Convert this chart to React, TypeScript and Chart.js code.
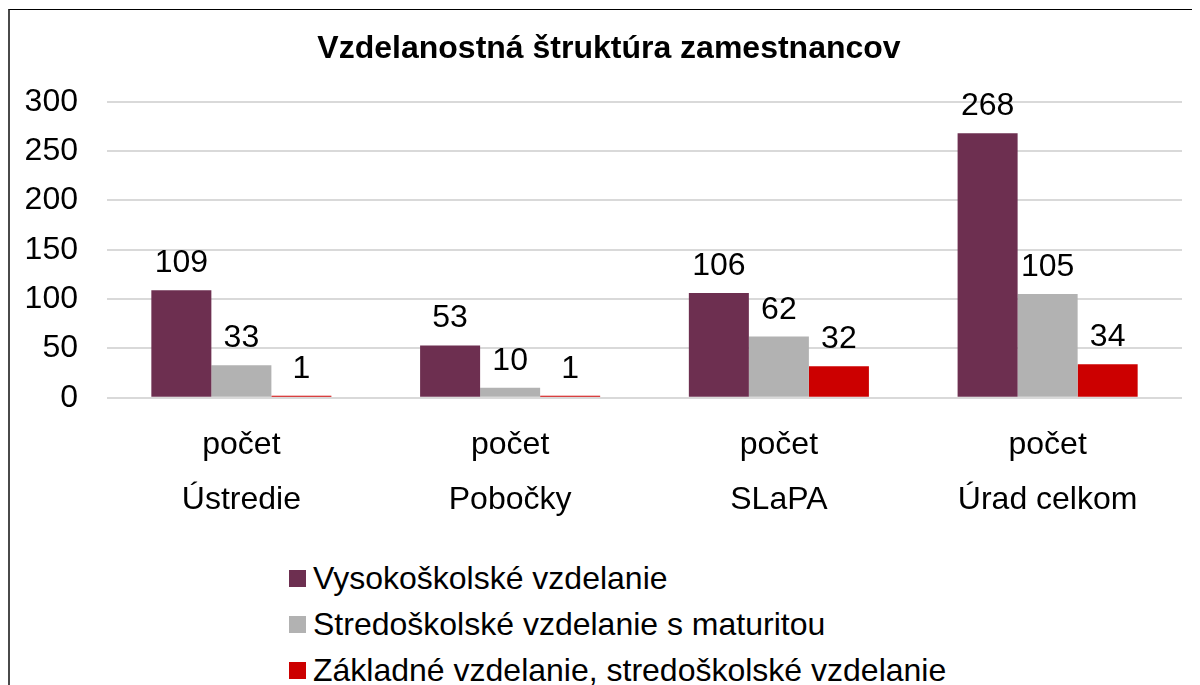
import { useEffect, useRef } from "react";
import { Chart, registerables } from "chart.js";

Chart.register(...registerables);

const FONT = "'Liberation Sans', Arial, sans-serif";

const chartTitle = "Vzdelanostná štruktúra zamestnancov";
const categories = ["Ústredie", "Pobočky", "SLaPA", "Úrad celkom"];
const subLabel = "počet";
const seriesNames = [
  "Vysokoškolské vzdelanie",
  "Stredoškolské vzdelanie s maturitou",
  "Základné vzdelanie, stredoškolské vzdelanie",
];
const vysokoskolske = [109, 53, 106, 268];
const stredoskolske = [33, 10, 62, 105];
const zakladne = [1, 1, 32, 34];
const seriesColors = ["#6D2F50", "#B2B2B2", "#CC0000"];
const yMin = 0;
const yMax = 300;
const yStep = 50;

const valueLabels = {
  id: "valueLabels",
  afterDatasetsDraw(chart: any) {
    const ctx = chart.ctx;
    ctx.save();
    ctx.font = `32px ${FONT}`;
    ctx.fillStyle = "#000";
    ctx.textAlign = "center";
    ctx.textBaseline = "alphabetic";
    chart.data.datasets.forEach((ds: any, i: number) => {
      const meta = chart.getDatasetMeta(i);
      meta.data.forEach((el: any, j: number) => {
        const { x, y } = el.getProps(["x", "y"], true);
        ctx.fillText(String(ds.data[j]), x, y - 18);
      });
    });
    ctx.restore();
  },
};

// Title centred over the whole chart frame (not only the plotting width)
const frameTitle = {
  id: "frameTitle",
  afterDraw(chart: any) {
    const ctx = chart.ctx;
    ctx.save();
    ctx.font = `bold 32px ${FONT}`;
    ctx.fillStyle = "#000";
    ctx.textAlign = "center";
    ctx.textBaseline = "middle";
    ctx.fillText(chartTitle, chart.width / 2, 39.2);
    ctx.restore();
  },
};

export default function App() {
  const ref = useRef<HTMLCanvasElement>(null);

  useEffect(() => {
    document.documentElement.style.overflow = "hidden";
    document.body.style.overflow = "hidden";
    const data = [vysokoskolske, stredoskolske, zakladne];
    const chart = new Chart(ref.current as HTMLCanvasElement, {
      type: "bar",
      data: {
        labels: categories.map((c) => [subLabel, c]),
        datasets: seriesNames.map((name, i) => ({
          label: name,
          data: data[i],
          backgroundColor: seriesColors[i],
          borderWidth: 0,
          categoryPercentage: 0.67,
          barPercentage: 1,
          minBarLength: 2,
        })),
      },
      options: {
        responsive: false,
        animation: false,
        devicePixelRatio: 1,
        layout: { padding: { left: 0, right: 26, top: 91.7, bottom: 0 } },
        plugins: {
          legend: { display: false },
          tooltip: { enabled: false },
          title: { display: false },
        },
        scales: {
          x: {
            grid: { display: false },
            border: { display: false },
            ticks: {
              color: "#000",
              font: { family: FONT, size: 32, lineHeight: 55 / 32 },
              padding: 12,
              maxRotation: 0,
              autoSkip: false,
            },
            afterFit: (s: any) => {
              s.height = 132.3;
            },
          },
          y: {
            min: yMin,
            max: yMax,
            ticks: {
              stepSize: yStep,
              color: "#000",
              font: { family: FONT, size: 32 },
              padding: 29,
            },
            grid: { color: "#D9D9D9", lineWidth: 2, drawTicks: false },
            border: { display: false },
            afterFit: (s: any) => {
              s.width = 97;
            },
          },
        },
      } as any,
      plugins: [valueLabels, frameTitle],
    });
    return () => chart.destroy();
  }, []);

  return (
    <div
      style={{
        position: "relative",
        top: 1,
        width: 1198,
        borderTop: "1px solid #000",
        borderLeft: "2px solid #4a4a4a",
        background: "#fff",
        fontFamily: FONT,
        height: 700,
      }}
    >
      <canvas ref={ref} width={1198} height={520} style={{ display: "block" }} />
      <div style={{ paddingLeft: 279, paddingTop: 25 }}>
        {seriesNames.map((name, i) => (
          <div
            key={name}
            style={{
              display: "flex",
              alignItems: "center",
              height: 46,
              fontSize: 32,
              lineHeight: "46px",
              color: "#000",
            }}
          >
            <span
              style={{
                display: "inline-block",
                width: 17,
                height: 17,
                background: seriesColors[i],
                marginRight: 7,
              }}
            />
            <span>{name}</span>
          </div>
        ))}
      </div>
    </div>
  );
}
